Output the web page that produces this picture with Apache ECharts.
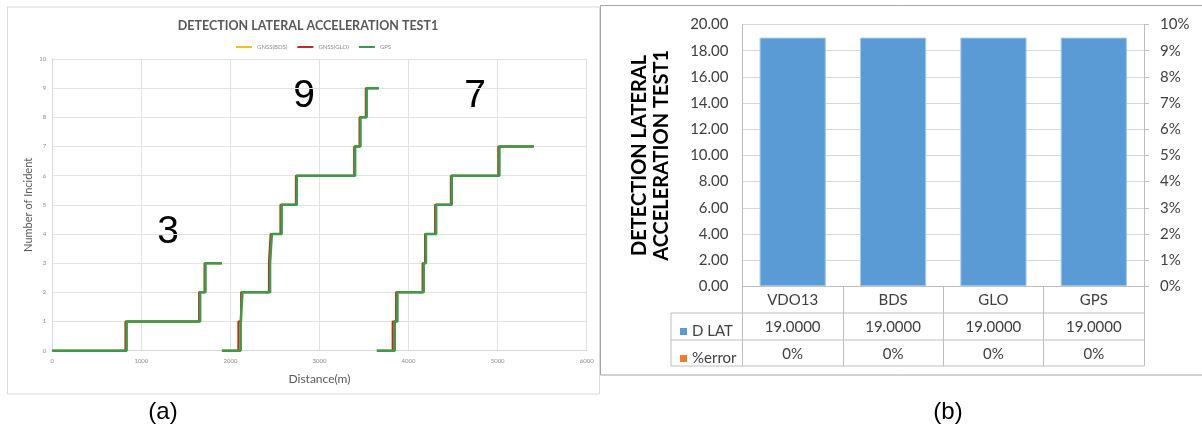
<!DOCTYPE html>
<html>
<head>
<meta charset="utf-8">
<script src="https://cdn.jsdelivr.net/npm/echarts@6/dist/echarts.min.js"></script>
<style>
  html, body { margin: 0; padding: 0; background: #fff; }
  #chart { width: 1202px; height: 436px; }
</style>
</head>
<body>
<div id="chart"></div>
<script>
// (a) cumulative incidents vs distance, one array per run and receiver
const gpsRun1 = [[0, 0], [835, 1], [1660, 2], [1720, 3], [1904, 3]];
const gpsRun2 = [[1904, 0], [2115, 1], [2135, 2], [2445, 3], [2465, 4], [2575, 5], [2745, 6], [3400, 7], [3460, 8], [3530, 9], [3665, 9]];
const gpsRun3 = [[3644, 0], [3845, 1], [3875, 2], [4170, 3], [4195, 4], [4310, 5], [4485, 6], [5020, 7], [5406, 7]];
const gloRun1 = [[0, 0], [822, 1], [1648, 2], [1710, 3], [1904, 3]];
const gloRun2 = [[1904, 0], [2090, 1], [2120, 2], [2432, 3], [2452, 4], [2562, 5], [2735, 6], [3390, 7], [3450, 8], [3520, 9], [3665, 9]];
const gloRun3 = [[3644, 0], [3822, 1], [3860, 2], [4158, 3], [4185, 4], [4298, 5], [4475, 6], [5008, 7], [5406, 7]];
const bdsRun1 = [[0, 0], [822, 1], [1648, 2], [1710, 3], [1904, 3]];
const bdsRun2 = [[1904, 0], [2090, 1], [2120, 2], [2432, 3], [2452, 4], [2562, 5], [2735, 6], [3390, 7], [3450, 8], [3520, 9], [3665, 9]];
const bdsRun3 = [[3644, 0], [3822, 1], [3860, 2], [4158, 3], [4185, 4], [4298, 5], [4475, 6], [5008, 7], [5406, 7]];
const runTotals = ["3", "9", "7"];

// (b) detection count per receiver
const receivers = ["VDO13", "BDS", "GLO", "GPS"];
const dLat = [19, 19, 19, 19];
const pctError = [0, 0, 0, 0];

const chart = echarts.init(document.getElementById("chart"));

function stepLine(name, color, width, data) {
  return {
    name: name,
    type: "line",
    step: "end",
    xAxisIndex: 0,
    yAxisIndex: 0,
    data: data,
    symbol: "none",
    color: color,
    lineStyle: { color: color, width: width },
    animation: false,
  };
}

const smallGrey = { fontFamily: "Lato", fontSize: 6, color: "#8c8c8c" };
const tableText = { fontFamily: "Lato", fontSize: 15, color: "#404040" };

const option = {
  animation: false,
  title: [
    {
      text: "DETECTION LATERAL ACCELERATION TEST1",
      left: 303,
      top: 14,
      textAlign: "center",
      textStyle: { fontFamily: "Lato", fontSize: 12.5, fontWeight: "bold", color: "#595959" },
    },
  ],
  legend: [
    {
      data: ["GNSS(BDS)", "GNSS(GLO)", "GPS"],
      left: 231,
      top: 39,
      icon: "rect",
      itemWidth: 16,
      itemHeight: 2,
      itemGap: 10,
      textStyle: smallGrey,
    },
    {
      data: ["D LAT", "%error"],
      orient: "vertical",
      left: 675,
      top: 313,
      icon: "rect",
      itemWidth: 7,
      itemHeight: 7,
      itemGap: 0,
      itemStyle: { borderWidth: 0 },
      textStyle: Object.assign({ lineHeight: 27 }, tableText),
    },
  ],
  grid: [
    { left: 52.3, right: 615.3, top: 59, bottom: 85.3 },
    { left: 742.5, right: 58, top: 24.5, bottom: 149.7 },
  ],
  xAxis: [
    {
      gridIndex: 0,
      type: "value",
      min: 0,
      max: 6000,
      interval: 1000,
      name: "Distance(m)",
      nameLocation: "middle",
      nameGap: 22,
      nameTextStyle: { fontFamily: "Lato", fontSize: 12, color: "#595959" },
      axisLine: { lineStyle: { color: "#d9d9d9" } },
      axisTick: { show: false },
      axisLabel: Object.assign({ margin: 7, formatter: (v) => String(v) }, smallGrey),
      splitLine: { lineStyle: { color: "#e3e3e3" } },
    },
    {
      gridIndex: 1,
      type: "category",
      data: receivers,
      axisLine: { lineStyle: { color: "#bfbfbf" } },
      axisTick: { show: true, length: 80, alignWithLabel: false, interval: 0, lineStyle: { color: "#bfbfbf" } },
      axisLabel: Object.assign({
        interval: 0,
        margin: 0,
        lineHeight: 27,
        formatter: (value, idx) =>
          value + "\n" + dLat[idx].toFixed(4) + "\n" + Math.round(pctError[idx] * 100) + "%",
      }, tableText),
    },
  ],
  yAxis: [
    {
      gridIndex: 0,
      type: "value",
      min: 0,
      max: 10,
      interval: 1,
      name: "Number of Incident",
      nameLocation: "middle",
      nameGap: 18,
      nameTextStyle: { fontFamily: "Lato", fontSize: 11, color: "#595959" },
      axisLine: { show: true, lineStyle: { color: "#d9d9d9" } },
      axisTick: { show: false },
      axisLabel: Object.assign({ margin: 6 }, smallGrey),
      splitLine: { lineStyle: { color: "#e3e3e3" } },
    },
    {
      gridIndex: 1,
      type: "value",
      min: 0,
      max: 20,
      interval: 2,
      name: "DETECTION LATERAL\nACCELERATION TEST1",
      nameLocation: "middle",
      nameGap: 70,
      nameTextStyle: { fontFamily: "Lato", fontSize: 20, fontWeight: "bold", color: "#000", lineHeight: 22 },
      axisLine: { show: true, lineStyle: { color: "#bfbfbf" } },
      axisTick: { show: false },
      axisLabel: Object.assign({ margin: 14, formatter: (v) => v.toFixed(2) }, tableText),
      splitLine: { lineStyle: { color: "#d9d9d9" } },
    },
    {
      gridIndex: 1,
      type: "value",
      position: "right",
      min: 0,
      max: 0.1,
      interval: 0.01,
      axisLine: { show: true, lineStyle: { color: "#bfbfbf" } },
      axisTick: { show: true, length: 5, lineStyle: { color: "#bfbfbf" } },
      axisLabel: Object.assign({ margin: 16, formatter: (v) => Math.round(v * 100) + "%" }, tableText),
      splitLine: { show: false },
    },
  ],
  graphic: [
    { type: "rect", shape: { x: 7.5, y: 7, width: 592, height: 387 }, style: { fill: "none", stroke: "#d9d9d9", lineWidth: 1 }, z: -1 },
    { type: "rect", shape: { x: 600.5, y: 5.5, width: 620, height: 369.5 }, style: { fill: "none", stroke: "#a6a6a6", lineWidth: 1 }, z: -1 },
    { type: "line", shape: { x1: 671, y1: 313, x2: 1144, y2: 313 }, style: { stroke: "#bfbfbf", lineWidth: 1 } },
    { type: "line", shape: { x1: 671, y1: 340, x2: 1144, y2: 340 }, style: { stroke: "#bfbfbf", lineWidth: 1 } },
    { type: "line", shape: { x1: 671, y1: 366, x2: 1144, y2: 366 }, style: { stroke: "#bfbfbf", lineWidth: 1 } },
    { type: "line", shape: { x1: 671, y1: 313, x2: 671, y2: 366 }, style: { stroke: "#bfbfbf", lineWidth: 1 } },
    { type: "text", x: 168, y: 232, style: { text: runTotals[0], font: "39px 'Liberation Sans'", fill: "#000", textAlign: "center", textVerticalAlign: "middle" } },
    { type: "text", x: 304, y: 96, style: { text: runTotals[1], font: "39px 'Liberation Sans'", fill: "#000", textAlign: "center", textVerticalAlign: "middle" } },
    { type: "text", x: 475, y: 96, style: { text: runTotals[2], font: "39px 'Liberation Sans'", fill: "#000", textAlign: "center", textVerticalAlign: "middle" } },
    { type: "text", x: 163, y: 412, style: { text: "(a)", font: "24px 'Liberation Sans'", fill: "#000", textAlign: "center", textVerticalAlign: "middle" } },
    { type: "text", x: 948, y: 412, style: { text: "(b)", font: "24px 'Liberation Sans'", fill: "#000", textAlign: "center", textVerticalAlign: "middle" } },
  ],
  series: [
    stepLine("GNSS(BDS)", "#f0c020", 2, bdsRun1),
    stepLine("GNSS(BDS)", "#f0c020", 2, bdsRun2),
    stepLine("GNSS(BDS)", "#f0c020", 2, bdsRun3),
    stepLine("GNSS(GLO)", "#c0282d", 2, gloRun1),
    stepLine("GNSS(GLO)", "#c0282d", 2, gloRun2),
    stepLine("GNSS(GLO)", "#c0282d", 2, gloRun3),
    stepLine("GPS", "#3b9a4b", 2.5, gpsRun1),
    stepLine("GPS", "#3b9a4b", 2.5, gpsRun2),
    stepLine("GPS", "#3b9a4b", 2.5, gpsRun3),
    {
      name: "D LAT",
      type: "bar",
      xAxisIndex: 1,
      yAxisIndex: 1,
      data: dLat,
      barWidth: "66%",
      color: "#5b9bd5",
      itemStyle: { color: "#5b9bd5", borderColor: "#a9c9ea", borderWidth: 1 },
    },
    {
      name: "%error",
      type: "bar",
      xAxisIndex: 1,
      yAxisIndex: 2,
      data: pctError,
      barWidth: "66%",
      barGap: "-100%",
      color: "#ed7d31",
      itemStyle: { color: "#ed7d31" },
    },
  ],
};

chart.setOption(option);
window.addEventListener("resize", () => {
  chart.resize();
});
</script>
</body>
</html>
